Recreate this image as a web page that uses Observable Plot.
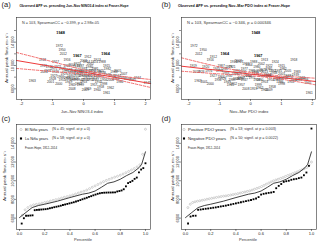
<!DOCTYPE html>
<html><head><meta charset="utf-8">
<script src="https://cdn.jsdelivr.net/npm/d3@7"></script>
<script src="https://cdn.jsdelivr.net/npm/@observablehq/plot@0.6"></script>
<style>
html,body{margin:0;padding:0;background:#fff;}
#wrap{position:relative;width:320px;height:244px;overflow:hidden;}
.cell{position:absolute;width:160px;height:122px;}
#overlay{position:absolute;left:0;top:0;pointer-events:none;}
</style></head><body><div id="wrap"></div>
<script>
const FONT = "'Liberation Sans', Arial, sans-serif";

// ---- Scatter data (panels a, b): one entry per year ----
const years = [1948,1972,1950,2012,1967,1964,
1912,1913,1914,1915,1916,1917,1918,1919,1920,1921,
1922,1923,1924,1925,1926,1927,1928,1929,1930,1931,
1932,1933,1934,1935,1936,1937,1938,1939,1940,1941,
1942,1943,1944,1945,1946,1947,1949,1951,1952,1953,
1954,1955,1956,1957,1958,1959,1960,1961,1962,1963,
1965,1966,1968,1969,1970,1971,1973,1974,1975,1976,
1977,1978,1979,1980,1981,1982,1983,1984,1985,1986,
1987,1988,1989,1990,1991,1992,1993,1994,1995,1996,
1997,1998,1999,2000,2001,2002,2003,2004,2005,2006,
2007,2008,2009,2010,2011,2013,2014];
const apf = [15660,13290,12720,12060,11710,11940,11420,10970,10570,10000,
10970,10570,10970,10000,9830,9830,10000,10290,10570,9140,
8860,8120,7730,8570,8290,9140,8860,9430,8460,9030,
8570,8290,8690,8460,8120,8290,7900,7730,7900,6930,
7730,7440,7160,7440,6870,7160,7440,7160,7560,6590,
6300,6020,5850,5270,6160,7270,6590,8000,7900,8120,
8570,7900,7900,8000,9430,9140,9430,9260,9710,9830,
9430,9430,8860,7730,7440,7160,10000,10570,7440,7560,
9140,9140,8690,9030,8860,8120,7440,6870,6590,6870,
7160,10290,10860,10140,9030,7440,8570,6020,5730,8120,
7730,8860,8860];
const nino34 = [-0.74,-0.78,-0.69,-0.65,-0.20,0.71,0.14,0.44,0.10,0.74,
-0.53,-0.90,-1.32,-1.29,-1.10,-0.83,-0.53,-0.20,0.35,0.55,
-0.90,-0.96,-1.00,-0.63,-0.42,-0.33,-0.10,0.00,0.06,0.17,
0.28,0.44,0.60,0.77,0.93,1.10,1.26,1.42,1.74,2.06,
-0.27,-0.10,-0.48,-0.69,-0.16,0.00,0.22,0.48,0.65,0.33,
0.55,0.14,0.44,0.74,0.87,-1.65,-0.37,-0.74,-0.53,-0.05,
-0.18,0.11,0.33,0.55,-0.96,-1.15,-0.69,-0.48,-0.23,0.19,
0.37,0.77,0.98,1.04,1.58,1.17,-0.10,0.60,-0.33,0.06,
-0.16,0.28,-0.37,-0.58,0.00,0.17,0.39,0.65,-0.10,-0.80,
-1.06,0.22,0.00,-0.37,1.10,0.87,1.30,-0.37,0.06,-0.20,
-0.48,0.44,-1.27];
const pdo = [0.17,-1.83,-1.53,-1.67,0.25,-0.83,-1.20,0.45,-0.55,1.00,
-1.30,-0.35,1.40,-1.85,-1.45,-0.60,0.60,-0.15,0.80,0.30,
-1.60,-1.20,-0.90,-0.40,-0.70,0.05,-0.25,-0.85,0.55,0.90,
0.15,1.20,0.75,1.45,0.35,-0.05,1.65,0.95,1.10,1.85,
-0.45,-0.20,-0.75,-1.05,-0.55,0.45,0.65,1.30,0.20,-0.30,
0.70,0.10,0.45,1.90,0.30,-1.70,-0.65,-0.95,-0.30,0.55,
-0.50,0.05,0.85,1.25,-1.10,-1.35,-0.20,0.40,-0.70,0.20,
0.60,1.05,1.50,1.75,1.55,0.95,-0.95,0.10,-0.60,0.30,
-0.45,0.70,-0.80,-1.00,0.15,0.60,0.85,1.00,0.25,-1.30,
-1.50,0.35,-0.40,-0.05,1.20,1.40,1.00,-0.15,0.60,-0.10,
-0.35,0.45,-1.75];
const boldYears = [1948,1964,1967];

// regression fit and confidence bounds
const ninoFitX   = [-2.16,-1,0,0.5,1,2.16];
const ninoFit    = [10860,9810,8890,8430,7970,6910];
const ninoUpper  = [12230,10650,9250,8700,8300,7600];
const ninoLower  = [9490,8970,8530,8150,7640,6230];
const pdoFitX    = [-2.23,-1,0,0.5,1,2.1];
const pdoFit     = [9880,9140,8530,8230,7925,7260];
const pdoUpper   = [11320,9750,8800,8480,8200,7820];
const pdoLower   = [9020,8560,8260,7980,7650,6690];

// ---- Percentile panels (c, d): sorted annual peak flows per group ----
const elNino = [6310,6890,7130,7310,7420,7470,7530,7600,7670,7740,
7820,7900,7980,8050,8140,8230,8300,8380,8470,8570,
8680,8790,8880,9000,9150,9300,9450,9600,9750,9900,
10030,10150,10270,10380,10480,10590,10720,10860,11000,11150,
11300,11480,11700,12830,15510];
const laNina = [5420,5990,6250,6260,6280,6300,6850,6880,6900,6920,
6940,6960,7000,7060,7110,7170,7220,7270,7330,7400,
7460,7520,7580,7640,7700,7780,7850,7930,8020,8100,
8180,8270,8350,8440,8520,8600,8660,8700,8720,8730,
8740,8740,8750,8760,8850,8900,8960,9090,9400,9750,
9860,9990,10200,10340,10900,11200,11350,11870];
const posPDO = [7130,7490,7670,7750,7810,7860,7910,7960,8020,8070,
8120,8170,8220,8270,8310,8350,8380,8420,8470,8520,
8560,8620,8680,8740,8800,8860,8920,9000,9090,9180,
9270,9380,9500,9630,9750,9880,9990,10080,10160,10250,
10340,10450,10560,10650,10750,10850,10950,11060,11180,11300,
11420,11700,12000];
const negPDO = [5420,6170,6250,6260,6890,6920,6960,7000,7030,7070,
7110,7150,7200,7250,7290,7340,7400,7460,7520,7580,
7640,7700,7760,7820,7880,7940,8020,8100,8250,8520,
8600,8650,8700,8740,8800,9200,9450,9650,9880,9950,
10000,10100,10160,10200,10280,10340,10590,10880,11590,15580];
const allPct  = [0,0.05,0.1,0.15,0.2,0.3,0.4,0.5,0.55,0.6,0.65,0.7,0.75,0.8,0.85,0.9,0.95,0.97,1.0];
const allFlow = [6060,6600,7130,7350,7490,7810,8200,8560,8680,8900,9300,9730,9880,10160,10550,10880,11410,11760,13090];

const xTicksScatter = [-2,-1,0,1,2];
const yTicksScatter = [6000,8000,10000,12000,14000,16000];
const yLabelsScatter = [6000,10000,14000];
const xTicksPct = [0,0.2,0.4,0.6,0.8,1.0];
const yTicksPct = [6000,8000,10000,12000,14000];

function fmtFlow(d){ const s = String(d); return d >= 10000 ? s.slice(0,-3) + "\u2009" + s.slice(-3) : s; }

const rows = years.map((year,i)=>({year, flow: apf[i], nino: nino34[i], pdo: pdo[i], bold: boldYears.includes(year)}));

const baseStyle = {fontFamily: FONT, fontSize: "4px", background: "transparent", overflow: "visible", color: "#222"};

function scatterPanel(xKey, xDomain, ml, mr, fitX, fit, up, lo){
  const band = fitX.map((x,i)=>({x, fit: fit[i], up: up[i], lo: lo[i]}));
  return Plot.plot({
    width: 160, height: 122, marginLeft: ml, marginRight: mr, marginTop: 17, marginBottom: 23,
    style: baseStyle,
    x: {domain: xDomain}, y: {domain: [4170, 18230]},
    marks: [
      Plot.text(rows.filter(d=>!d.bold), {x: xKey, y: "flow", text: d=>String(d.year), fontSize: 3.2, fill: "#2a2a2a"}),
      Plot.text(rows.filter(d=>d.bold), {x: xKey, y: "flow", text: d=>String(d.year), fontSize: 3.8, fontWeight: "bold", fill: "#000"}),
      Plot.line(band, {x: "x", y: "up", stroke: "#f06060", strokeWidth: 0.9, strokeDasharray: "2.5,1.5", curve: "catmull-rom"}),
      Plot.line(band, {x: "x", y: "lo", stroke: "#f06060", strokeWidth: 0.9, strokeDasharray: "2.5,1.5", curve: "catmull-rom"}),
      Plot.line(band, {x: "x", y: "fit", stroke: "#ee3a3a", strokeWidth: 1}),
      Plot.frame({stroke: "#333", strokeWidth: 0.6}),
      Plot.axisX({ticks: xTicksScatter, tickSize: 2, tickPadding: 1, fontSize: 4, label: null, strokeWidth: 0.5, tickFormat: d=>String(d)}),
      Plot.axisY({ticks: yTicksScatter, tickSize: 2, tickPadding: 1, tickRotate: -90, fontSize: 4, label: null, strokeWidth: 0.5,
                  tickFormat: d => yLabelsScatter.includes(d) ? fmtFlow(d) : ""})
    ]
  });
}

function pctPanel(grayVals, blackVals, xDomain, ml, mr){
  const gray = grayVals.map((v,i)=>({p: (i+1)/grayVals.length, v}));
  const black = blackVals.map((v,i)=>({p: (i+1)/blackVals.length, v}));
  const line = allPct.map((p,i)=>({p, v: allFlow[i]}));
  return Plot.plot({
    width: 160, height: 122, marginLeft: ml, marginRight: mr, marginTop: 2, marginBottom: 15,
    style: baseStyle,
    x: {domain: xDomain}, y: {domain: [4784, 16016]},
    marks: [
      Plot.dot(gray, {x: "p", y: "v", r: 1.0, stroke: "#a8a8a8", strokeWidth: 0.5, fill: "none"}),
      Plot.dot(black, {x: "p", y: "v", r: 1.05, symbol: "square", fill: "#000", stroke: "none"}),
      Plot.line(line, {x: "p", y: "v", stroke: "#111", strokeWidth: 0.8}),
      Plot.frame({stroke: "#333", strokeWidth: 0.6}),
      Plot.axisX({ticks: xTicksPct, tickSize: 2, tickPadding: 1, fontSize: 4, label: null, strokeWidth: 0.5, tickFormat: d3.format(".1f")}),
      Plot.axisY({ticks: yTicksPct, tickSize: 2, tickPadding: 1, tickRotate: -90, fontSize: 4, label: null, strokeWidth: 0.5, tickFormat: fmtFlow})
    ]
  });
}

const wrap = document.getElementById("wrap");
function place(node, x, y){ const d = document.createElement("div"); d.className = "cell"; d.style.left = x+"px"; d.style.top = y+"px"; d.appendChild(node); wrap.appendChild(d); }

place(scatterPanel("nino", [-2.16, 2.16], 16, 10, ninoFitX, ninoFit, ninoUpper, ninoLower), 0, 0);
place(scatterPanel("pdo", [-2.23, 2.1], 21, 5, pdoFitX, pdoFit, pdoUpper, pdoLower), 160, 0);
place(pctPanel(elNino, laNina, [-0.024, 1.04], 16, 10), 0, 122);
place(pctPanel(posPDO, negPDO, [-0.032, 1.04], 21, 4), 160, 122);

// ---- overlay text ----
const svg = d3.select(wrap).append("svg").attr("id","overlay").attr("width",320).attr("height",244)
  .style("font-family", FONT);
function txt(x, y, s, o = {}){
  const t = svg.append("text").attr("x", x).attr("y", y).text(s)
    .attr("font-size", o.size || 4).attr("fill", o.fill || "#111")
    .attr("font-weight", o.weight || "normal").attr("text-anchor", o.anchor || "start")
    .attr("dominant-baseline", "middle");
  if (o.len) t.attr("textLength", o.len).attr("lengthAdjust", "spacingAndGlyphs");
  if (o.rot) t.attr("transform", `rotate(${o.rot},${x},${y})`);
  return t;
}
txt(1.5, 5.5, "(a)", {size: 7.5, fill: "#222"});
txt(161.5, 5.5, "(b)", {size: 7.5, fill: "#222"});
txt(1.5, 119, "(c)", {size: 7.5, fill: "#222"});
txt(161.5, 119, "(d)", {size: 7.5, fill: "#222"});
txt(19.5, 6, "Observed APF vs. preceding Jun\u2013Nov NINO3.4 index at Fraser-Hope", {size: 3.6, weight: "bold", len: 109});
txt(178, 6, "Observed APF vs. preceding Nov\u2013Mar PDO index at Fraser-Hope", {size: 3.6, weight: "bold", len: 112});
txt(22, 23, "N = 103, SpearmanCC = \u22120.399, p = 2.98e-05", {size: 3.6, len: 77, fill: "#333"});
txt(187, 23, "N = 103, SpearmanCC = \u22120.346, p = 0.000346", {size: 3.6, len: 84, fill: "#333"});
txt(82, 112, "Jun\u2013Nov NINO3.4 index", {size: 4, anchor: "middle", len: 42, fill: "#333"});
txt(249, 112, "Nov\u2013Mar PDO index", {size: 4, anchor: "middle", len: 39, fill: "#333"});
txt(83, 240, "Percentile", {size: 4, anchor: "middle", fill: "#333"});
txt(248, 240, "Percentile", {size: 4, anchor: "middle", fill: "#333"});
const ylab = "Annual peak flow, m\u00b3 s\u207b\u00b9";
txt(7, 58, ylab, {size: 3.8, anchor: "middle", rot: -90, len: 50, fill: "#333"});
txt(173, 58, ylab, {size: 3.8, anchor: "middle", rot: -90, len: 50, fill: "#333"});
txt(5, 176, ylab, {size: 3.8, anchor: "middle", rot: -90, len: 50, fill: "#333"});
txt(173, 176, ylab, {size: 3.8, anchor: "middle", rot: -90, len: 50, fill: "#333"});

// legends
function legend(x0, rowsL){
  rowsL.forEach((r, i) => {
    const y = 129.5 + i*9;
    if (r.sym === "circle") svg.append("circle").attr("cx", x0).attr("cy", y).attr("r", 1.1).attr("fill","none").attr("stroke","#a8a8a8").attr("stroke-width",0.5);
    else svg.append("rect").attr("x", x0-1.05).attr("y", y-1.05).attr("width",2.1).attr("height",2.1).attr("fill","#000");
    txt(x0+4, y, r.name, {size: 4.3, len: r.nameLen, fill: "#222"});
    txt(x0+4+r.nameLen+4, y, r.note, {size: 3.2, len: r.noteLen, fill: "#333"});
  });
}
legend(21, [
  {sym: "circle", name: "El Ni\u00f1o  years", nameLen: 23, note: "(N = 45; signif. at p = 0)", noteLen: 38},
  {sym: "square", name: "La Ni\u00f1a  years", nameLen: 23, note: "(N = 58; signif. at p = 0)", noteLen: 38}
]);
txt(25, 148, "Fraser-Hope, 1912\u20132014", {size: 4.3, len: 32, fill: "#222"});
legend(184, [
  {sym: "circle", name: "Positive PDO  years", nameLen: 38, note: "(N = 53; signif. at p = 0.003)", noteLen: 46},
  {sym: "square", name: "Negative PDO  years", nameLen: 38, note: "(N = 50; signif. at p = 0.0022)", noteLen: 48}
]);
txt(188, 148, "Fraser-Hope, 1912\u20132014", {size: 4.3, len: 32, fill: "#222"});
</script></body></html>
